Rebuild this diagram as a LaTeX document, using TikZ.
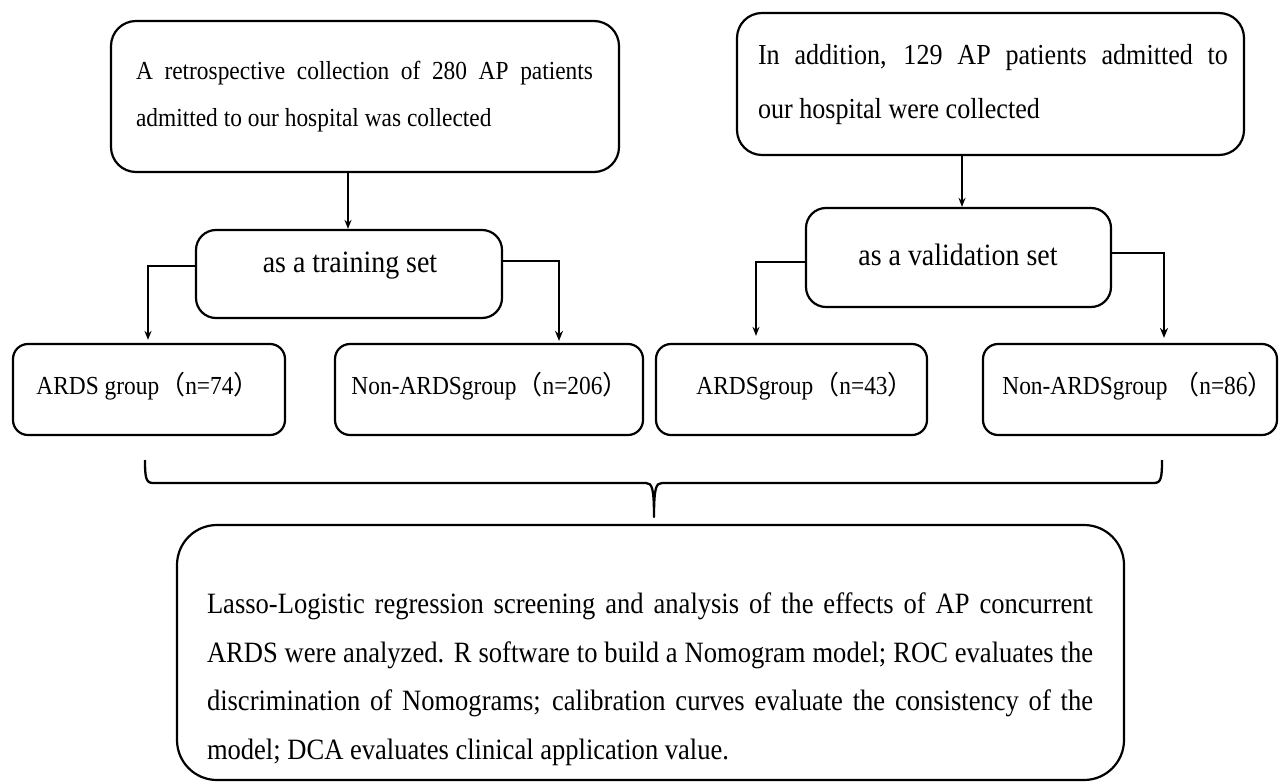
\documentclass[tikz,border=0pt]{standalone}
\usepackage{fontspec}
\setmainfont{Liberation Serif}[FakeStretch=0.9]
\newfontfamily\cjkfont{Noto Sans CJK SC}
\usetikzlibrary{arrows.meta}
\newcommand{\flp}{{\cjkfont （}}
\newcommand{\frp}{{\cjkfont ）}}
\begin{document}
\begin{tikzpicture}[x=1pt,y=-1pt,
  box/.style={draw, line width=2.2pt, rounded corners=#1, inner sep=0pt},
  txt/.style={inner sep=0pt, align=left},
  thin arrow/.style={line width=1.5pt, -{Stealth[length=9pt,width=7pt]}},
  thick arrow/.style={line width=2.5pt, -{Stealth[length=10pt,width=8pt]}},
  brace line/.style={line width=2.3pt, line join=round}
]
\useasboundingbox (0,0) rectangle (1284,783);
\fill[white] (0,0) rectangle (1284,783);

% top boxes
\node[box=25pt, minimum width=508pt, minimum height=151pt] (box1) at (365,96.5) {};
\node[txt, font=\fontsize{26}{47}\selectfont, anchor=center] (t1) at (364.5,97)
  {\makebox[457pt][s]{A retrospective collection of 280 AP patients}\\admitted to our hospital was collected};

\node[box=25pt, minimum width=507pt, minimum height=142pt] (box2) at (990.5,84) {};
\node[txt, font=\fontsize{29}{54}\selectfont, anchor=center] (t2) at (993,85)
  {\makebox[470pt][s]{In addition, 129 AP patients admitted to}\\our hospital were collected};

% set boxes
\node[box=20pt, minimum width=306pt, minimum height=88pt] (train) at (349,274) {};
\node[inner sep=0pt, font=\fontsize{31}{36}\selectfont] (train t) at (350,266) {as a training set};

\node[box=20pt, minimum width=305pt, minimum height=99pt] (valid) at (958.5,257.5) {};
\node[inner sep=0pt, font=\fontsize{31}{36}\selectfont] (valid t) at (958,255) {as a validation set};

% group boxes
\tikzset{gtext/.style={inner sep=0pt, font=\fontsize{26}{32}\selectfont}}
\node[box=15pt, minimum width=272pt, minimum height=91pt] (g1) at (149,389.5) {};
\node[gtext] (g1 t) at (148,386) {ARDS group\flp n=74\frp};
\node[box=15pt, minimum width=308pt, minimum height=91pt] (g2) at (489,389.5) {};
\node[gtext] (g2 t) at (490,386) {Non-ARDSgroup\flp n=206\frp};
\node[box=15pt, minimum width=271pt, minimum height=91pt] (g3) at (791.5,389.5) {};
\node[gtext] (g3 t) at (805,386) {ARDSgroup\flp n=43\frp};
\node[box=15pt, minimum width=294pt, minimum height=91pt] (g4) at (1130,389.5) {};
\node[gtext] (g4 t) at (1138,386) {Non-ARDSgroup \flp n=86\frp};

% bottom box
\node[box=40pt, minimum width=947pt, minimum height=255pt] (bottom) at (650.5,652.5) {};
\node[txt, font=\fontsize{29.5}{48.5}\selectfont, anchor=center] (bt) at (650,679)
  {\makebox[886pt][s]{Lasso-Logistic regression screening and analysis of the effects of AP concurrent}\\
   \makebox[886pt][s]{ARDS were analyzed. R software to build a Nomogram model; ROC evaluates the}\\
   \makebox[886pt][s]{discrimination of Nomograms; calibration curves evaluate the consistency of the}\\
   model; DCA evaluates clinical application value.};

% connectors
\draw[thin arrow] (box1.south -| 348,0) -- (train.north -| 348,0);
\draw[thin arrow] (box2.south -| 962,0) -- (valid.north -| 962,0);

\draw[thin arrow, shorten >=3pt] ([yshift=8pt]train.west) -| (g1.north -| 148,0);
\draw[thick arrow, shorten >=2pt] ([yshift=13pt]train.east) -| (g2.north -| 559,0);
\draw[thin arrow, shorten >=7pt] ([yshift=-4.5pt]valid.west) -| (g3.north -| 756,0);
\draw[thick arrow, shorten >=5pt] ([yshift=4.5pt]valid.east) -| (g4.north -| 1164,0);

% brace
\coordinate (bl) at (145,460);
\coordinate (br) at (1162,460);
\coordinate (bm) at (654,517);
\draw[brace line] (bl) .. controls (145,478) and (146,483) .. (153,483) -- (646,483)
  .. controls (652,483) and (654,488) .. (bm)
  .. controls (654,488) and (656,483) .. (662,483) -- (1154,483)
  .. controls (1161,483) and (1162,478) .. (br);
\end{tikzpicture}
\end{document}
